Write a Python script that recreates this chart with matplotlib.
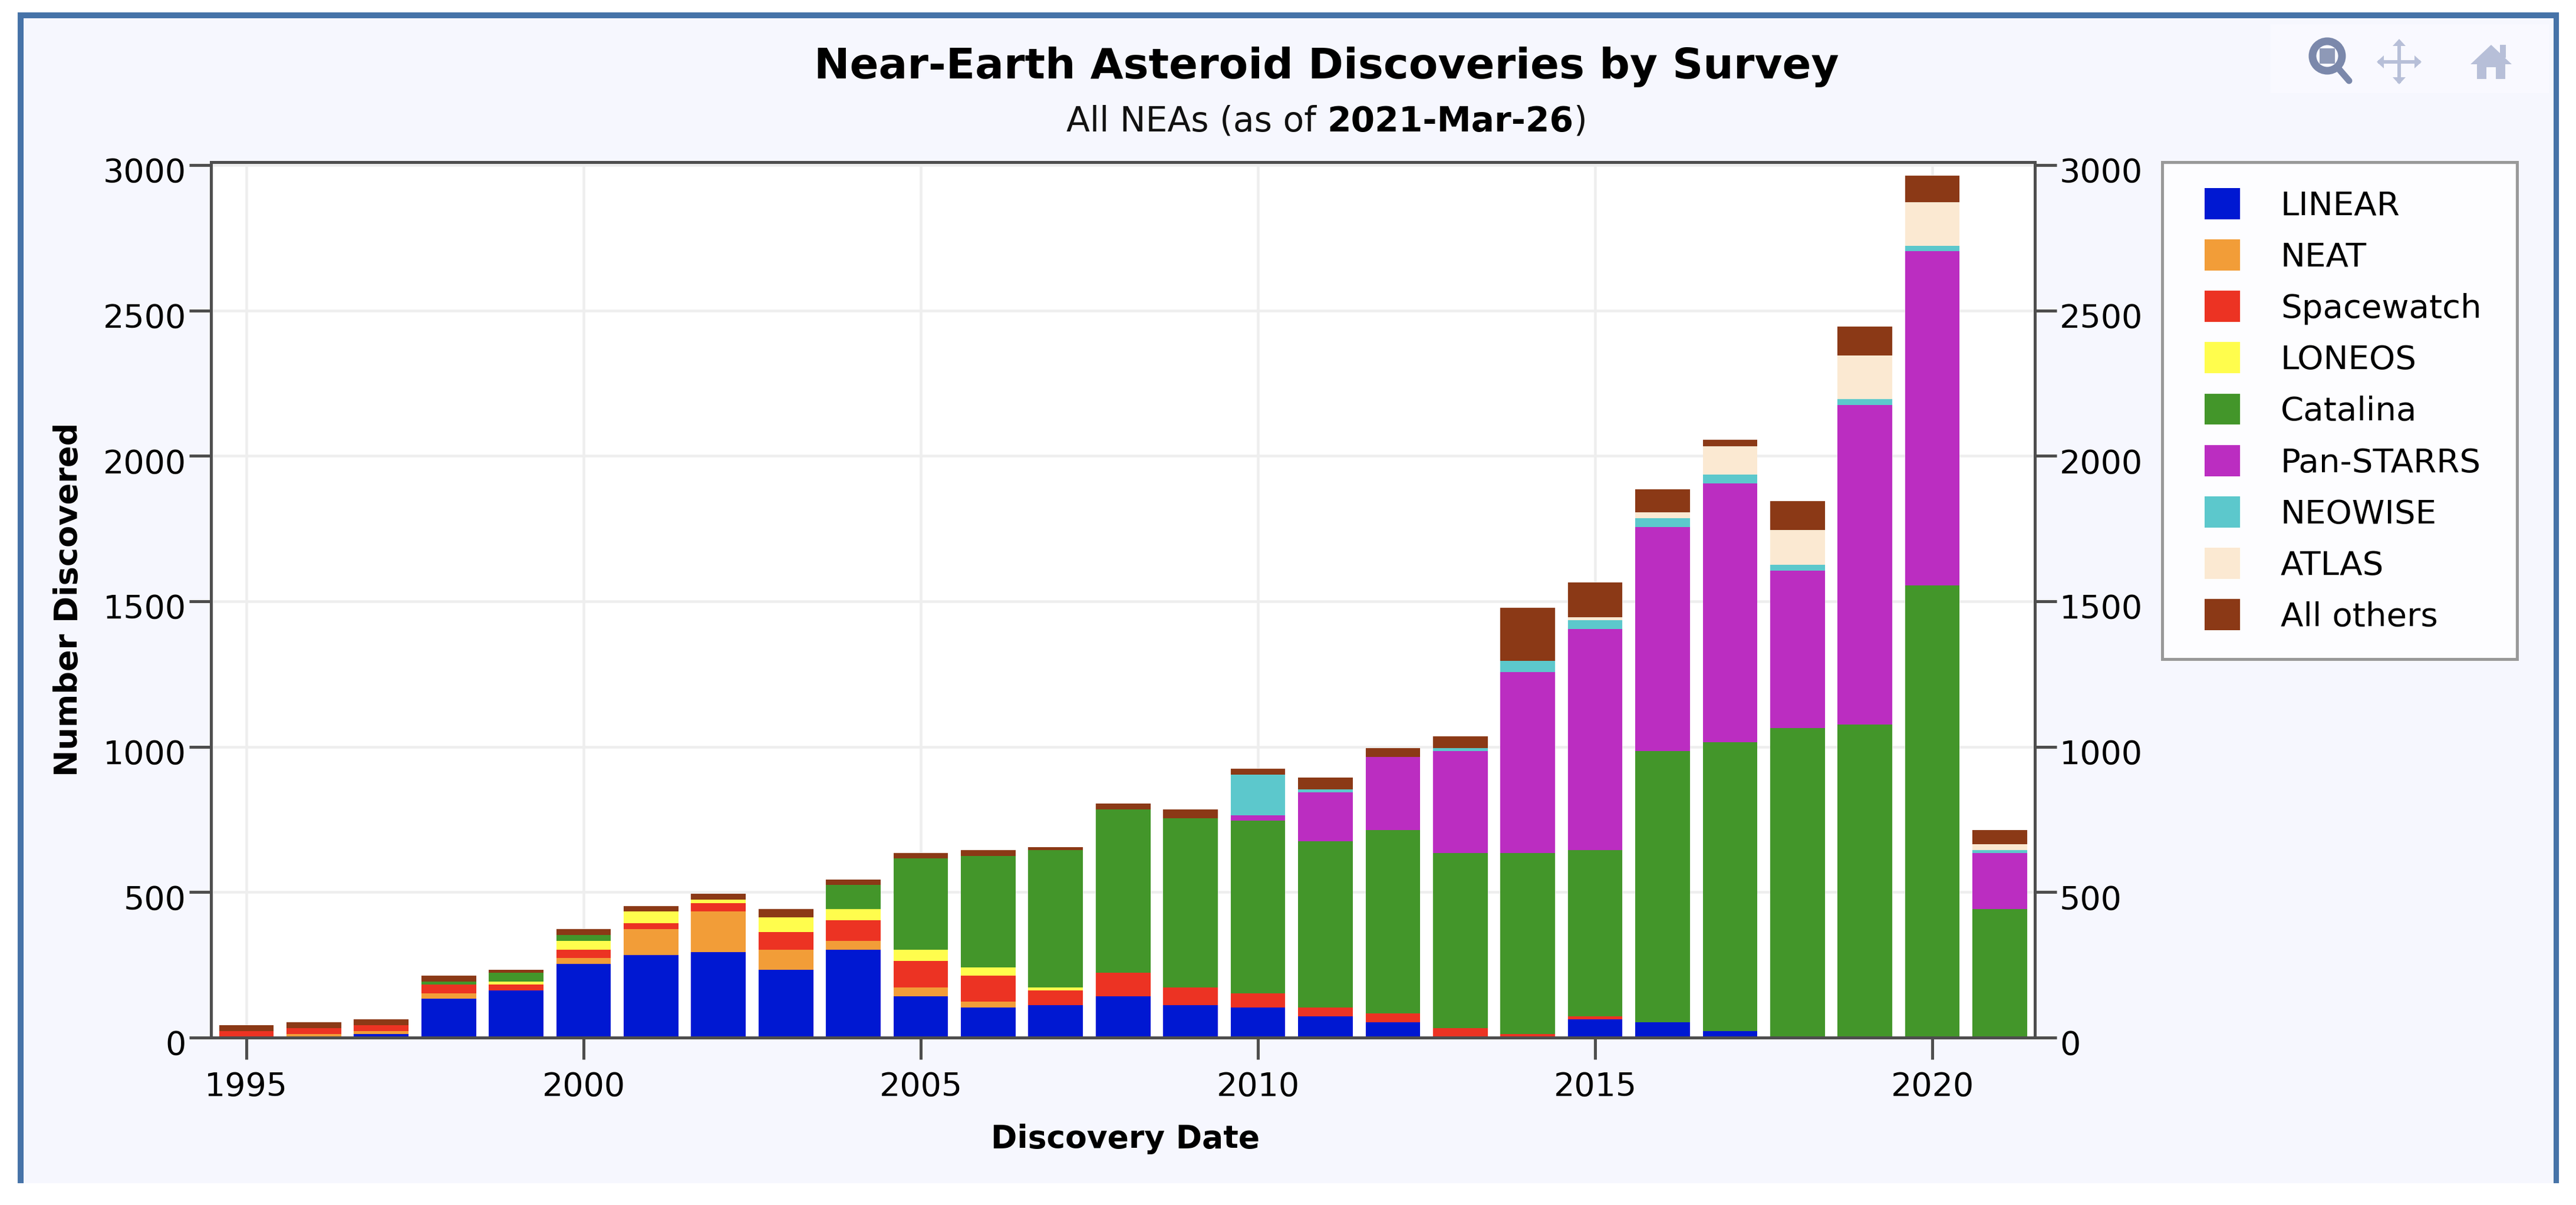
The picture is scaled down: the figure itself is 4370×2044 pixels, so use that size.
import numpy as np
import matplotlib
matplotlib.use("Agg")
import matplotlib.pyplot as plt
from matplotlib.patches import Rectangle, Circle, Polygon
from matplotlib.legend_handler import HandlerPatch
from matplotlib.transforms import ScaledTranslation

years = list(range(1995, 2022))
linear = [0,0,12,133,162,253,283,294,233,303,142,103,112,142,112,103,73,53,0,0,62,53,23,0,0,0,0]
neat = [0,12,11,20,0,20,90,139,70,30,31,20,0,0,0,0,0,0,0,0,0,0,0,0,0,0,0]
spacewatch = [23,20,20,30,21,30,21,30,60,70,90,89,50,81,61,50,30,30,32,12,11,0,0,0,0,0,0]
loneos = [0,0,0,0,10,30,39,11,50,39,40,30,11,0,0,0,0,0,0,0,0,0,0,0,0,0,0]
catalina = [0,0,0,10,30,20,0,0,0,83,313,382,471,562,581,593,571,631,603,623,571,932,992,1065,1076,1554,442]
panstarrs = [0,0,0,0,0,0,0,0,0,0,0,0,0,0,0,19,170,251,350,621,761,770,890,540,1099,1150,193]
neowise = [0,0,0,0,0,0,0,0,0,0,0,0,0,0,0,139,10,0,10,40,30,30,30,20,20,19,9]
atlas = [0,0,0,0,0,0,0,0,0,0,0,0,0,0,0,0,0,0,0,0,10,20,99,120,150,150,20]
others = [20,21,19,19,10,20,20,20,29,19,19,20,11,20,31,20,40,30,40,182,120,80,22,100,99,91,50]

series_names = ["LINEAR","NEAT","Spacewatch","LONEOS","Catalina","Pan-STARRS","NEOWISE","ATLAS","All others"]
series_values = [linear,neat,spacewatch,loneos,catalina,panstarrs,neowise,atlas,others]
colors = ["#0018D2","#F29D38","#EC3323","#FFFD4D","#43962A","#BB2DC1","#5CC8CC","#FBE9D2","#8B3916"]
x_ticks = [1995,2000,2005,2010,2015,2020]
y_ticks = [0,500,1000,1500,2000,2500,3000]

W, H = 4370, 2044
DPI = 100
PX = 72 / DPI
FS = 40
fig = plt.figure(figsize=(W/DPI, H/DPI), dpi=DPI, facecolor="white")

# page background, panel and toolbar, in pixel coordinates
bg = fig.add_axes([0,0,1,1], zorder=0)
bg.set_xlim(0,W); bg.set_ylim(H,0); bg.axis("off")
BORDER = "#4673A8"
bg.add_patch(Rectangle((30,21),4311,1986,fc=BORDER,ec="none"))
bg.add_patch(Rectangle((40,31),4292,1976,fc="#F6F7FE",ec="none"))
bg.add_patch(Rectangle((3852,41),472,117,fc="#F9F9FF",ec="none"))
# zoom icon
ic1, ic2 = "#7B88AB", "#B7BFD8"
bg.add_patch(Circle((3948,95),25,fc="none",ec=ic1,lw=13*PX))
bg.add_patch(Rectangle((3935,82),26,26,fc=ic1,ec="none",alpha=0.85))
bg.plot([3966,3985],[115,137],color=ic1,lw=11*PX,solid_capstyle="round")
# pan icon
bg.plot([4070,4070],[72,138],color=ic2,lw=6*PX)
bg.plot([4037,4103],[105,105],color=ic2,lw=6*PX)
for tri in ([(4070,66),(4059,78),(4081,78)],[(4070,143),(4059,131),(4081,131)],
            [(4032,105),(4044,94),(4044,116)],[(4108,105),(4096,94),(4096,116)]):
    bg.add_patch(Polygon(tri,fc=ic2,ec="none"))
# home icon
bg.add_patch(Polygon([(4191,109),(4226,76),(4261,109),(4250,109),(4250,134),(4234,134),(4234,114),(4218,114),(4218,134),(4202,134),(4202,109)],fc=ic2,ec="none"))
bg.add_patch(Rectangle((4241,76),10,22,fc=ic2,ec="none"))

# titles
bg.text(2250,133,"Near-Earth Asteroid Discoveries by Survey",ha="center",va="baseline",fontsize=52,fontweight="bold",color="black")
t1 = bg.text(1809,223,"All NEAs (as of ",ha="left",va="baseline",fontsize=42,color="#111111")
bg.annotate("2021-Mar-26",xy=(1,0),xycoords=t1,xytext=(0,0),textcoords="offset points",ha="left",va="bottom",fontsize=42,fontweight="bold",color="black",annotation_clip=False)
t2 = bg.texts[-1]
bg.annotate(")",xy=(1,0),xycoords=t2,xytext=(0,0),textcoords="offset points",ha="left",va="bottom",fontsize=42,color="#111111",annotation_clip=False)

# main axes
L,R,T,B = 358,3452,275,1760
ax = fig.add_axes([L/W,1-B/H,(R-L)/W,(B-T)/H],zorder=1)
ax.set_facecolor("white")
ax.set_xlim(1994.476,2021.52)
ax.set_ylim(0,3010)
ax.set_axisbelow(True)
ax.grid(True,color="#EEEEEE",lw=4.5*PX)
bottom = np.zeros(len(years))
handles = []
for name,vals,c in zip(series_names,series_values,colors):
    vals = np.array(vals,dtype=float)
    h = ax.bar(years,vals,width=0.81,bottom=bottom,color=c,edgecolor="none",label=name)
    handles.append(h)
    bottom += vals

AXC = "#4D4D4D"
for s in ax.spines.values():
    s.set_color(AXC); s.set_linewidth(5*PX)
ax.set_xticks(x_ticks); ax.set_xticklabels([str(v) for v in x_ticks])
ax.set_yticks(y_ticks); ax.set_yticklabels([str(v) for v in y_ticks])
ax.tick_params(axis="both",which="major",direction="out",length=37*PX,width=5*PX,color=AXC,labelsize=FS,labelcolor="black")
ax.tick_params(axis="x",pad=20*PX)
ax.tick_params(axis="y",left=True,right=True,labelleft=True,labelright=True,pad=5*PX)
shift = ScaledTranslation(0,-8/DPI,fig.dpi_scale_trans)
for tick in ax.yaxis.get_major_ticks():
    tick.label1.set_transform(tick.label1.get_transform()+shift)
    tick.label2.set_transform(tick.label2.get_transform()+shift)

fig.text(1909/W,1-1947/H,"Discovery Date",ha="center",va="baseline",fontsize=38.5,fontweight="bold",color="black")
fig.text(142/W,1-1017/H,"Number Discovered",ha="right",va="center",rotation=90,fontsize=39,fontweight="bold",color="black")

# legend
LF = 40.5
em = LF/PX
swatch = 60/em
pad = 44/em
hlen = (3800-3668-44)/em

def make_swatch(legend,orig_handle,xdescent,ydescent,width,height,fontsize):
    w = swatch*fontsize
    return Rectangle((-xdescent+width-w,-ydescent),w,height,fc=orig_handle.get_facecolor(),ec="none")

proxies = [Rectangle((0,0),1,1,fc=c) for c in colors]
leg = fig.legend(proxies,series_names,loc="upper left",
                 bbox_to_anchor=(3668/W,1-1173/H,(4270-3668)/W,(1173-275)/H),mode="expand",
                 bbox_transform=fig.transFigure,borderaxespad=0,fontsize=LF,frameon=True,fancybox=False,
                 edgecolor="#999999",facecolor="#FDFDFF",framealpha=1,borderpad=pad,handlelength=hlen,
                 handleheight=swatch,handletextpad=(3869-3800)/em,labelspacing=(93.6-64)/em,
                 handler_map={Rectangle:HandlerPatch(patch_func=make_swatch)})
leg.get_frame().set_linewidth(5*PX)
leg.set_zorder(5)

fig.savefig("out.png",dpi=DPI,facecolor="white")
